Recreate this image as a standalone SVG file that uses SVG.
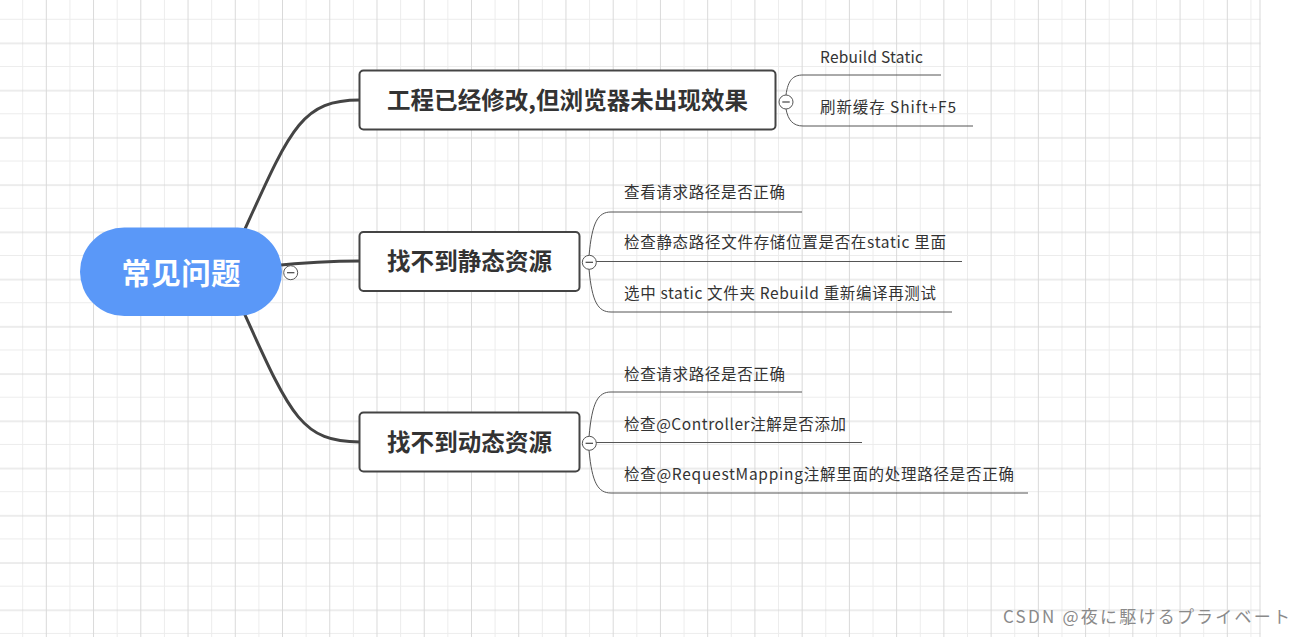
<svg xmlns="http://www.w3.org/2000/svg" width="1305" height="637" viewBox="0 0 1305 637">
<defs>
<pattern id="grid" patternUnits="userSpaceOnUse" x="22.2" y="18.8" width="47.24" height="47.24">
<line x1="0.5" y1="0" x2="0.5" y2="47.24" stroke="#ececec" stroke-width="1"/>
<line x1="0" y1="0.5" x2="47.24" y2="0.5" stroke="#ececec" stroke-width="1"/>
<line x1="24.1" y1="0" x2="24.1" y2="47.24" stroke="#d9d9d9" stroke-width="1"/>
<line x1="0" y1="24.5" x2="47.24" y2="24.5" stroke="#d9d9d9" stroke-width="1"/>
</pattern>
<style>
.title{font-family:"Noto Sans CJK SC","Microsoft YaHei",sans-serif;font-weight:bold;font-size:23.5px;fill:#333;text-anchor:middle}
.leaf{font-family:"Noto Sans CJK SC","Microsoft YaHei",sans-serif;font-size:15.5px;fill:#333}
.box{fill:#fff;stroke:#444;stroke-width:2}
.main{fill:none;stroke:#444;stroke-width:3}
.sub{fill:none;stroke:#555;stroke-width:1}
.btn circle{fill:#fff;stroke:#555;stroke-width:1}
.btn line{stroke:#444;stroke-width:1.2}
</style>
</defs>
<rect x="0" y="0" width="1305" height="637" fill="#fff"/>
<rect x="0" y="0" width="1260.5" height="637" fill="url(#grid)"/>
<line x1="1260" y1="0" x2="1260" y2="637" stroke="#d9d9d9" stroke-width="1"/>

<g id="connectors">
<path class="main" d="M240,240 C290,130 300,100 360,100"/>
<path class="main" d="M270,266 C310,262 330,261 360,261"/>
<path class="main" d="M240,304 C290,414 300,442 360,442"/>
<path class="sub" d="M786,95 C788,80 793,75 803,75 H941"/>
<path class="sub" d="M786,109 C788,120 793,126 803,126 H973"/>
<path class="sub" d="M589,256 C592,222 598,212 611,212 H802"/>
<path class="sub" d="M596,261.5 H962"/>
<path class="sub" d="M589,269 C592,302 598,312 611,312 H952"/>
<path class="sub" d="M589,437 C592,402 598,392 611,392 H802"/>
<path class="sub" d="M596,442.5 H862"/>
<path class="sub" d="M589,450 C592,483 598,493 611,493 H1028"/>
</g>

<g id="root">
<rect x="80" y="227.5" width="202" height="88.5" rx="44.25" fill="#5a98f8"/>
<text x="181" y="284" textLength="119" style="font-family:'Noto Sans CJK SC',sans-serif;font-weight:bold;font-size:29.5px;fill:#fff;text-anchor:middle">常见问题</text>
<g class="btn"><circle cx="290.7" cy="272.7" r="7"/><line x1="287" y1="272.7" x2="294.4" y2="272.7"/></g>
</g>

<g id="node-browser">
<rect class="box" x="359.5" y="70.5" width="416" height="59" rx="4"/>
<text class="title" x="567.5" y="109" textLength="361">工程已经修改,但浏览器未出现效果</text>
<g class="btn"><circle cx="786" cy="102" r="7"/><line x1="782.3" y1="102" x2="789.7" y2="102"/></g>
</g>

<g id="node-static">
<rect class="box" x="359.5" y="232" width="220" height="59" rx="4"/>
<text class="title" x="469.5" y="270" textLength="165">找不到静态资源</text>
<g class="btn"><circle cx="589.3" cy="262.3" r="7"/><line x1="585.6" y1="262.3" x2="593" y2="262.3"/></g>
</g>

<g id="node-dynamic">
<rect class="box" x="359.5" y="412.5" width="220" height="59" rx="4"/>
<text class="title" x="469.5" y="451" textLength="165">找不到动态资源</text>
<g class="btn"><circle cx="589.3" cy="443.3" r="7"/><line x1="585.6" y1="443.3" x2="593" y2="443.3"/></g>
</g>

<g id="leaf-rebuild-static"><text class="leaf" x="820" y="63" textLength="103">Rebuild Static</text></g>
<g id="leaf-refresh"><text class="leaf" x="820" y="113" textLength="136">刷新缓存 Shift+F5</text></g>
<g id="leaf-s1"><text class="leaf" x="624" y="198" textLength="161">查看请求路径是否正确</text></g>
<g id="leaf-s2"><text class="leaf" x="624" y="248" textLength="322">检查静态路径文件存储位置是否在static 里面</text></g>
<g id="leaf-s3"><text class="leaf" x="624" y="299" textLength="312">选中 static 文件夹 Rebuild 重新编译再测试</text></g>
<g id="leaf-d1"><text class="leaf" x="624" y="380" textLength="161">检查请求路径是否正确</text></g>
<g id="leaf-d2"><text class="leaf" x="624" y="430" textLength="222">检查@Controller注解是否添加</text></g>
<g id="leaf-d3"><text class="leaf" x="624" y="480" textLength="390">检查@RequestMapping注解里面的处理路径是否正确</text></g>

<text x="1003" y="623" textLength="287" style="font-family:'Noto Sans CJK JP','Liberation Sans',sans-serif;font-size:17px;fill:#8a8a8a">CSDN @夜に駆けるプライベート</text>
</svg>
